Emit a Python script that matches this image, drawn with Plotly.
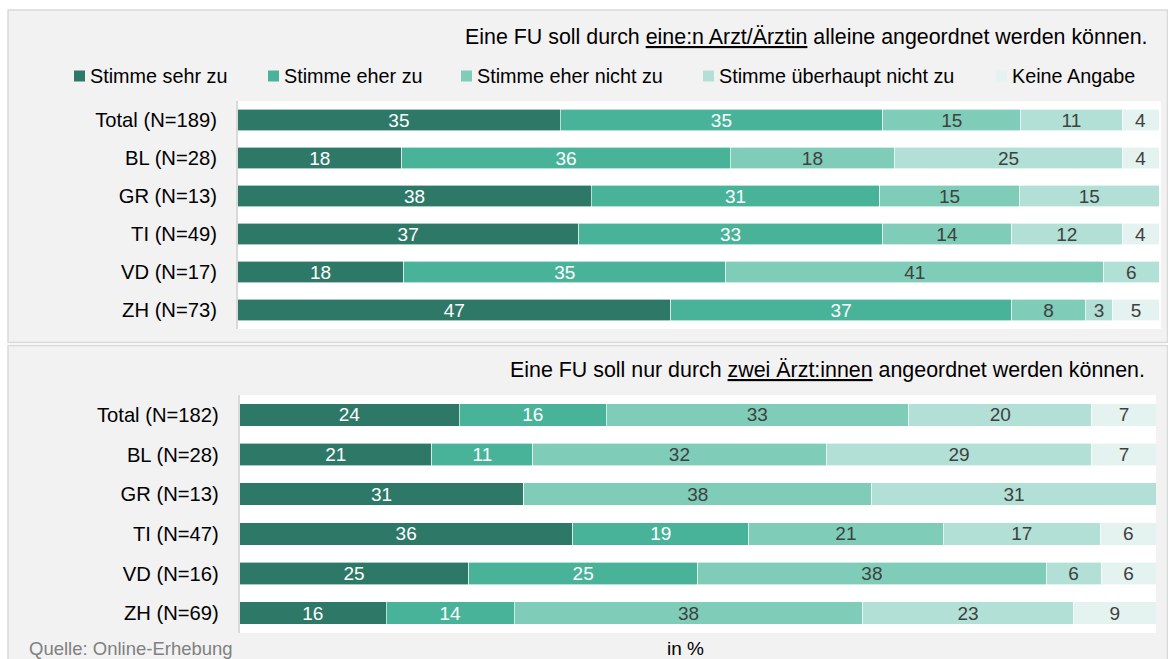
import plotly.graph_objects as go
from plotly.subplots import make_subplots

# --- data -----------------------------------------------------------------
series_names = ["Stimme sehr zu", "Stimme eher zu", "Stimme eher nicht zu",
                "Stimme überhaupt nicht zu", "Keine Angabe"]

# Question 1: one physician alone
cats_a = ["Total (N=189)", "BL (N=28)", "GR (N=13)", "TI (N=49)", "VD (N=17)", "ZH (N=73)"]
sehr_a = [35, 18, 38, 37, 18, 47]
eher_a = [35, 36, 31, 33, 35, 37]
eher_nicht_a = [15, 18, 15, 14, 41, 8]
ueberhaupt_a = [11, 25, 15, 12, 6, 3]
keine_a = [4, 4, 0, 4, 0, 5]

# Question 2: two physicians
cats_b = ["Total (N=182)", "BL (N=28)", "GR (N=13)", "TI (N=47)", "VD (N=16)", "ZH (N=69)"]
sehr_b = [24, 21, 31, 36, 25, 16]
eher_b = [16, 11, 0, 19, 25, 14]
eher_nicht_b = [33, 32, 38, 21, 38, 38]
ueberhaupt_b = [20, 29, 31, 17, 6, 23]
keine_b = [7, 7, 0, 6, 6, 9]

title_a = "Eine FU soll durch <u>eine:n Arzt/Ärztin</u> alleine angeordnet werden können."
title_b = "Eine FU soll nur durch <u>zwei Ärzt:innen</u> angeordnet werden können."

# --- styling --------------------------------------------------------------
colors = ["#2e7868", "#49b39a", "#7fcdb9", "#b2e0d6", "#e4f3ef"]
text_colors = ["#ffffff", "#ffffff", "#404040", "#404040", "#404040"]
FONT = "Liberation Sans, Arial, sans-serif"
W, H = 1168, 659


def px(x):
    return x / W


def py(y):
    return 1 - y / H


fig = make_subplots(rows=2, cols=1)

blocks = [
    (1, cats_a, [sehr_a, eher_a, eher_nicht_a, ueberhaupt_a, keine_a]),
    (2, cats_b, [sehr_b, eher_b, eher_nicht_b, ueberhaupt_b, keine_b]),
]
for row, cats, values in blocks:
    for name, vals, col, tcol in zip(series_names, values, colors, text_colors):
        fig.add_trace(
            go.Bar(
                y=cats, x=vals, name=name, orientation="h",
                marker=dict(color=col, line=dict(color="#ffffff", width=0.6)),
                text=[str(v) if v else "" for v in vals],
                textposition="inside", insidetextanchor="middle",
                constraintext="none", textangle=0,
                textfont=dict(family=FONT, size=19, color=tcol),
                showlegend=False, hoverinfo="x+y+name",
            ),
            row=row, col=1,
        )

fig.update_layout(
    width=W, height=H, autosize=False,
    margin=dict(l=0, r=0, t=0, b=0),
    barmode="stack", barnorm="percent", bargap=0.43,
    paper_bgcolor="#ffffff", plot_bgcolor="#ffffff",
    font=dict(family=FONT, size=19, color="#000000"),
)

axis_common = dict(range=[0, 100], showgrid=False, zeroline=False,
                   showticklabels=False, fixedrange=True)
fig.update_xaxes(domain=[px(237.7), px(1159)], **axis_common, row=1, col=1)
fig.update_xaxes(domain=[px(239.5), px(1156)], **axis_common, row=2, col=1)

yaxis_common = dict(autorange="reversed", showgrid=False, zeroline=False,
                    showline=True, linecolor="#d9d9d9", linewidth=1.5,
                    ticks="outside", tickcolor="rgba(0,0,0,0)",
                    tickfont=dict(family=FONT, size=20.2, color="#000000"),
                    fixedrange=True)
fig.update_yaxes(domain=[py(329), py(101)], ticklen=15, **yaxis_common, row=1, col=1)
fig.update_yaxes(domain=[py(633), py(395)], ticklen=15, **yaxis_common, row=2, col=1)

# --- panels ---------------------------------------------------------------
shapes = [
    dict(type="rect", xref="paper", yref="paper", layer="below",
         x0=px(8), x1=px(1167.5), y0=py(342.5), y1=py(10),
         fillcolor="#f2f2f2", line=dict(color="#d9d9d9", width=1.5)),
    dict(type="rect", xref="paper", yref="paper", layer="below",
         x0=px(8), x1=px(1167.5), y0=py(662), y1=py(345.5),
         fillcolor="#f2f2f2", line=dict(color="#d9d9d9", width=1.5)),
    dict(type="rect", xref="x domain", yref="y domain", layer="below",
         x0=0, x1=1.002, y0=0, y1=1, fillcolor="#ffffff", line=dict(width=0)),
    dict(type="rect", xref="x2 domain", yref="y2 domain", layer="below",
         x0=0, x1=1, y0=0, y1=1, fillcolor="#ffffff", line=dict(width=0)),
]

# legend row (drawn as squares + labels)
legend_x = [74, 268, 461, 703, 996]
for lx, col in zip(legend_x, colors):
    shapes.append(dict(type="rect", xref="paper", yref="paper", layer="above",
                       x0=px(lx), x1=px(lx + 11), y0=py(81.5), y1=py(70.5),
                       fillcolor=col, line=dict(width=0)))

annotations = []
for lx, name in zip(legend_x, series_names):
    annotations.append(dict(x=px(lx + 13.5), y=py(76), xref="paper", yref="paper",
                            text=name, showarrow=False, xanchor="left", yanchor="middle",
                            font=dict(family=FONT, size=19.8, color="#000000")))

annotations += [
    dict(x=px(1150), y=py(36.5), xref="paper", yref="paper", text=title_a,
         showarrow=False, xanchor="right", yanchor="middle",
         font=dict(family=FONT, size=21.4, color="#000000")),
    dict(x=px(1147), y=py(369.5), xref="paper", yref="paper", text=title_b,
         showarrow=False, xanchor="right", yanchor="middle",
         font=dict(family=FONT, size=21.4, color="#000000")),
    dict(x=px(685), y=py(648), xref="paper", yref="paper", text="in %",
         showarrow=False, xanchor="center", yanchor="middle",
         font=dict(family=FONT, size=19, color="#000000")),
    dict(x=px(27), y=py(648.5), xref="paper", yref="paper", text="Quelle: Online-Erhebung",
         showarrow=False, xanchor="left", yanchor="middle",
         font=dict(family=FONT, size=18.5, color="#808080")),
]

fig.update_layout(shapes=shapes, annotations=annotations)

fig.write_html("out.html", include_plotlyjs=True, config={"displayModeBar": False})
